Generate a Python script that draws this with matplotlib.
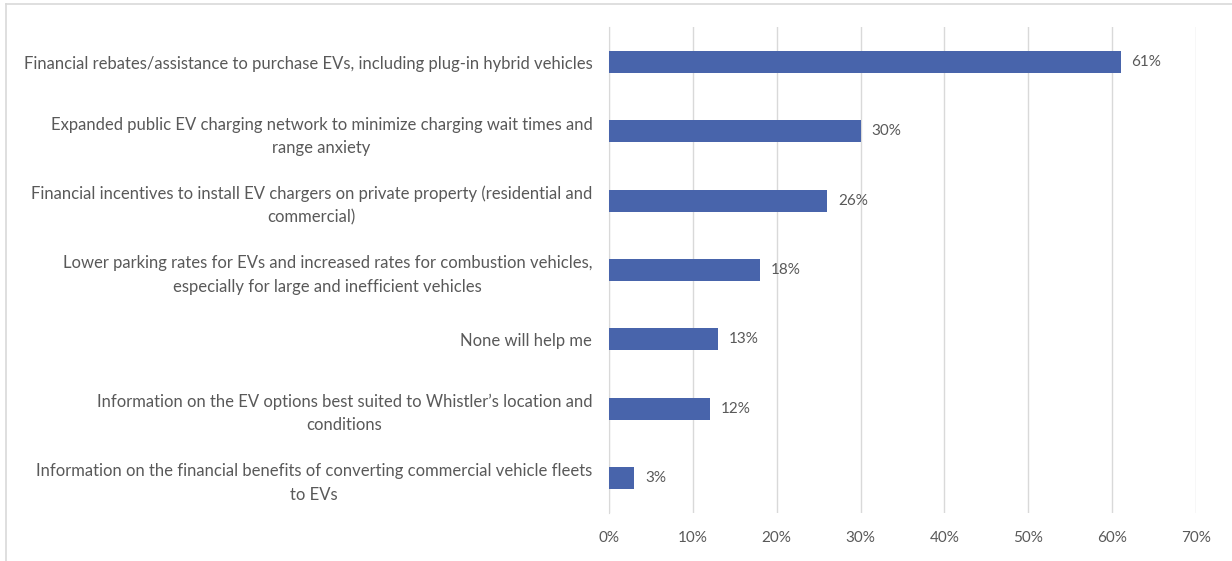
import matplotlib.pyplot as plt
from matplotlib.lines import Line2D
from matplotlib.ticker import PercentFormatter

labels = [
    "Financial rebates/assistance to purchase EVs, including plug-in hybrid vehicles",
    "Expanded public EV charging network to minimize charging wait times and\nrange anxiety",
    "Financial incentives to install EV chargers on private property (residential and\ncommercial)",
    "Lower parking rates for EVs and increased rates for combustion vehicles,\nespecially for large and inefficient vehicles",
    "None will help me",
    "Information on the EV options best suited to Whistler\u2019s location and\nconditions",
    "Information on the financial benefits of converting commercial vehicle fleets\nto EVs",
]
values = [61, 30, 26, 18, 13, 12, 3]

bar_color = '#4864ab'
text_color = '#595959'
grid_color = '#d9d9d9'

plt.rcParams['font.family'] = ['Lato', 'DejaVu Sans']

fig = plt.figure(figsize=(12.32, 5.61), dpi=100)
ax = fig.add_axes([0.4943, 0.0863, 0.4765, 0.8649])

ypos = list(range(len(values)))
ax.barh(ypos, values, height=0.32, color=bar_color, zorder=3)
ax.set_ylim(len(values) - 0.5, -0.5)
ax.set_xlim(0, 70)
ax.set_xticks(range(0, 71, 10))
ax.xaxis.set_major_formatter(PercentFormatter(decimals=0))

ax.set_yticks(ypos)
ax.set_yticklabels(labels, ha='right', multialignment='center',
                   fontsize=12, color=text_color, linespacing=1.55)
ax.tick_params(axis='y', length=0, pad=12)
ax.tick_params(axis='x', length=0, pad=13, labelsize=11, labelcolor=text_color)

for v, y in zip(values, ypos):
    ax.text(v + 1.3, y, f"{v}%", va='center', ha='left',
            fontsize=11, color=text_color)

ax.grid(axis='x', color=grid_color, linewidth=1, zorder=0)
for side in ['top', 'right', 'bottom']:
    ax.spines[side].set_visible(False)
ax.spines['left'].set_color(grid_color)

# outer chart frame (top and left edges)
fig.add_artist(Line2D([6 / 1232, 1], [1 - 4 / 561, 1 - 4 / 561],
                      transform=fig.transFigure, color='#d9d9d9', linewidth=1.2))
fig.add_artist(Line2D([6 / 1232, 6 / 1232], [0, 1 - 4 / 561],
                      transform=fig.transFigure, color='#d9d9d9', linewidth=1.2))

fig.savefig('out.png', dpi=100)
